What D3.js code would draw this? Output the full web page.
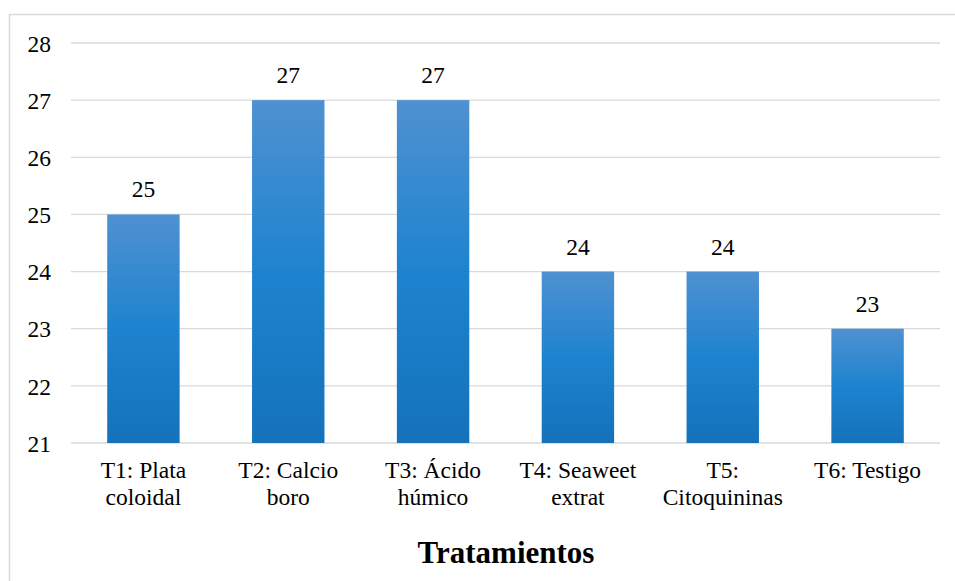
<!DOCTYPE html>
<html><head><meta charset="utf-8">
<script src="https://cdn.jsdelivr.net/npm/d3@7"></script>
<style>body{margin:0;background:#fff}svg{display:block}svg text{font-family:"Liberation Serif","Times New Roman",serif;fill:#000}</style>
</head><body>
<svg id="c" width="955" height="581"></svg>
<script>
const categories = [["T1: Plata","coloidal"],["T2: Calcio","boro"],["T3: Ácido","húmico"],["T4: Seaweet","extrat"],["T5:","Citoquininas"],["T6: Testigo"]];
const values = [25,27,27,24,24,23];
const yTicks = [21,22,23,24,25,26,27,28];
const xTitle = "Tratamientos";

const svg = d3.select("#c");
svg.append("rect").attr("x",9.5).attr("y",14.5).attr("width",960).attr("height",600)
  .attr("fill","#fff").attr("stroke","#d9d9d9").attr("stroke-width",1.5);

const defs = svg.append("defs");
const g = defs.append("linearGradient").attr("id","bg").attr("x1",0).attr("y1",0).attr("x2",0).attr("y2",1);
g.append("stop").attr("offset","0%").attr("stop-color","#4f91d1");
g.append("stop").attr("offset","50%").attr("stop-color","#1e83cf");
g.append("stop").attr("offset","100%").attr("stop-color","#1472bb");

const x = d3.scaleBand().domain(d3.range(categories.length)).range([71,940]).paddingInner(0.5).paddingOuter(0.25);
const y = d3.scaleLinear().domain([21,28]).range([443,43]);

svg.append("g").selectAll("line").data(yTicks).join("line")
  .attr("x1",71).attr("x2",940).attr("y1",d=>y(d)).attr("y2",d=>y(d))
  .attr("stroke","#d9d9d9").attr("stroke-width",1.3);

const yAxis = d3.axisLeft(y).tickValues(yTicks).tickFormat(d3.format("d")).tickSize(0).tickPadding(0);
const ya = svg.append("g").attr("transform","translate(51,0)").call(yAxis);
ya.attr("font-family",null).attr("font-size",null);
ya.select(".domain").remove();
ya.selectAll("text").style("font-size","23.5px").attr("dy","0.35em");

svg.append("g").selectAll("text").data(values).join("text")
  .attr("x",(d,i)=>x(i)+x.bandwidth()/2).attr("y",d=>y(d)-17)
  .attr("text-anchor","middle").style("font-size","23.5px")
  .text(d=>d);

svg.append("g").selectAll("rect").data(values).join("rect")
  .attr("x",(d,i)=>x(i)).attr("width",x.bandwidth())
  .attr("y",d=>y(d)).attr("height",d=>y(21)-y(d)).attr("fill","url(#bg)");

const xl = svg.append("g").selectAll("text").data(categories).join("text")
  .attr("x",(d,i)=>x(i)+x.bandwidth()/2).attr("y",478)
  .attr("text-anchor","middle").style("font-size","23.5px");
xl.each(function(d,i){
  const t=d3.select(this);
  d.forEach((s,j)=>t.append("tspan").attr("x",x(i)+x.bandwidth()/2).attr("dy",j?27:0).text(s));
});

svg.append("text").attr("x",506).attr("y",563).attr("text-anchor","middle")
  .style("font-size","31px").style("font-weight","bold").text(xTitle);
</script>
</body></html>
